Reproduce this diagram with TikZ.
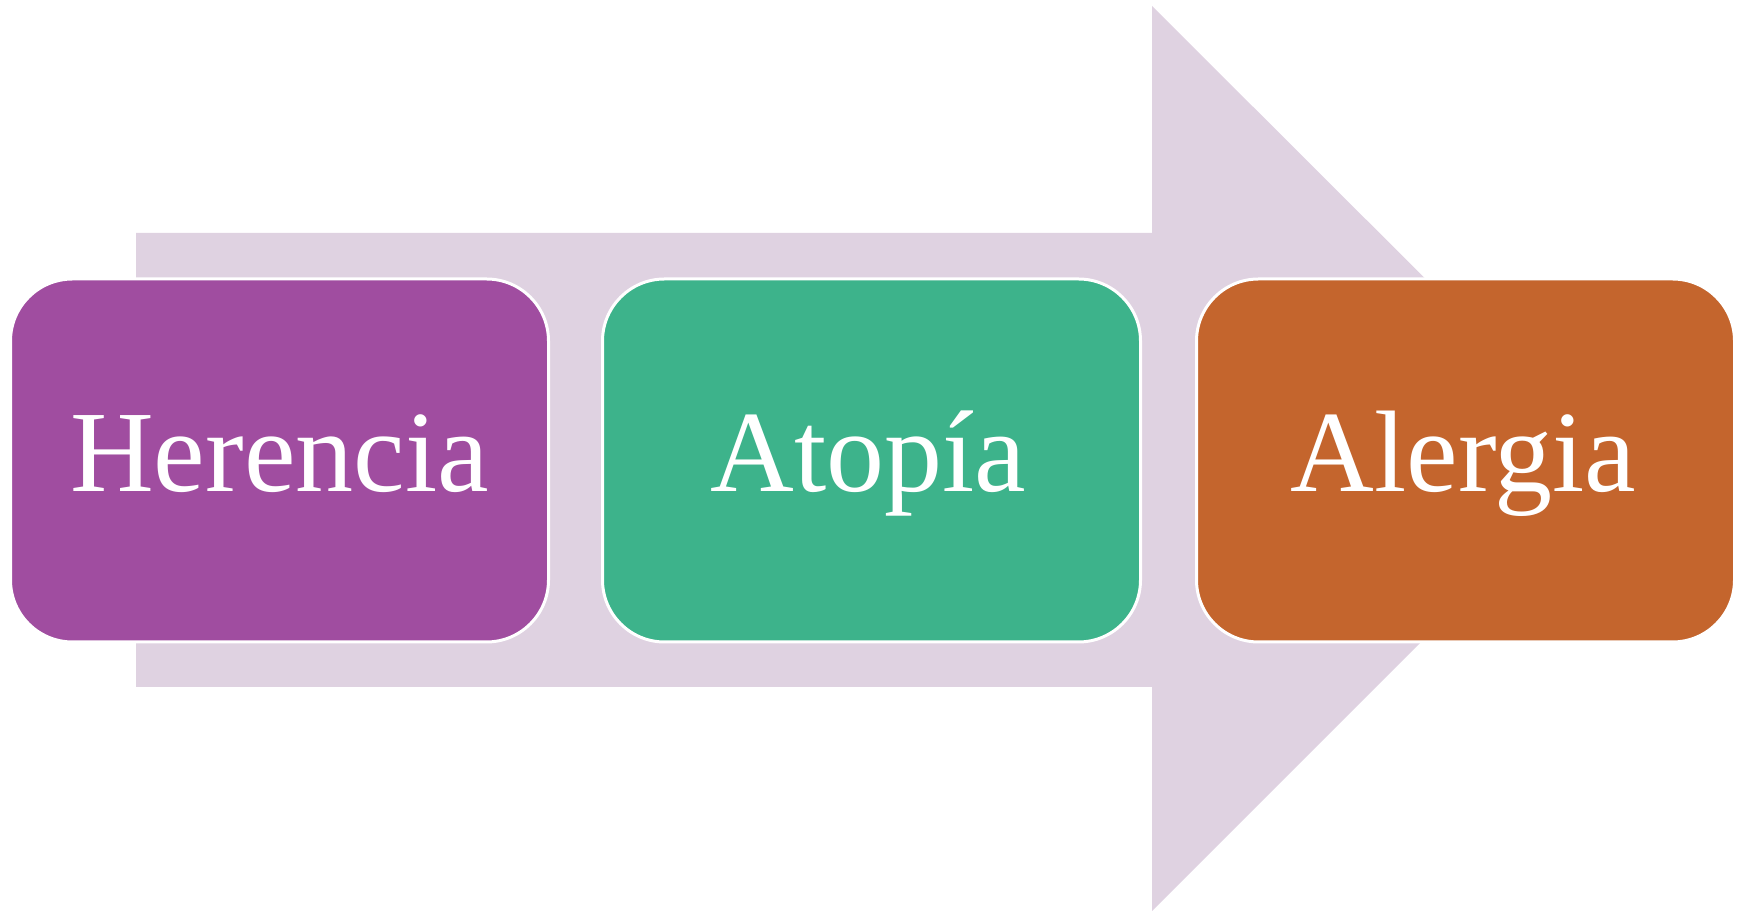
\documentclass[tikz,border=0pt]{standalone}
\usepackage{fontspec}
\setmainfont{Liberation Serif}
\definecolor{bandcol}{HTML}{DFD2E1}
\definecolor{purplebox}{HTML}{A04DA0}
\definecolor{greenbox}{HTML}{3DB38B}
\definecolor{orangebox}{HTML}{C4652D}
\tikzset{
  stagebox/.style={draw=white, line width=3pt, rounded corners=62pt,
    minimum width=538pt, minimum height=363pt, inner sep=0pt},
  stagetext/.style={text=white, anchor=base, inner sep=0pt,
    font=\fontsize{116}{120}\selectfont}
}
\begin{document}
\begin{tikzpicture}[x=1pt,y=1pt]
\useasboundingbox (0,0) rectangle (1746,912);
% big arrow
\fill[bandcol] (136,225) -- (136,679) -- (1152,679) -- (1152,906)
  -- (1605,454) -- (1152,1) -- (1152,225) -- cycle;
% boxes
\node[stagebox, fill=purplebox] (b1) at (279.5,451.5) {};
\node[stagebox, fill=greenbox] (b2) at (871.5,451.5) {};
\node[stagebox, fill=orangebox] (b3) at (1465.5,451.5) {};
\node[stagetext] (t1) at (279.5,420) {Herencia};
\node[stagetext] (t2) at (868.5,420) {Atopía};
\node[stagetext] (t3) at (1463.5,420) {Alergia};
\end{tikzpicture}
\end{document}
